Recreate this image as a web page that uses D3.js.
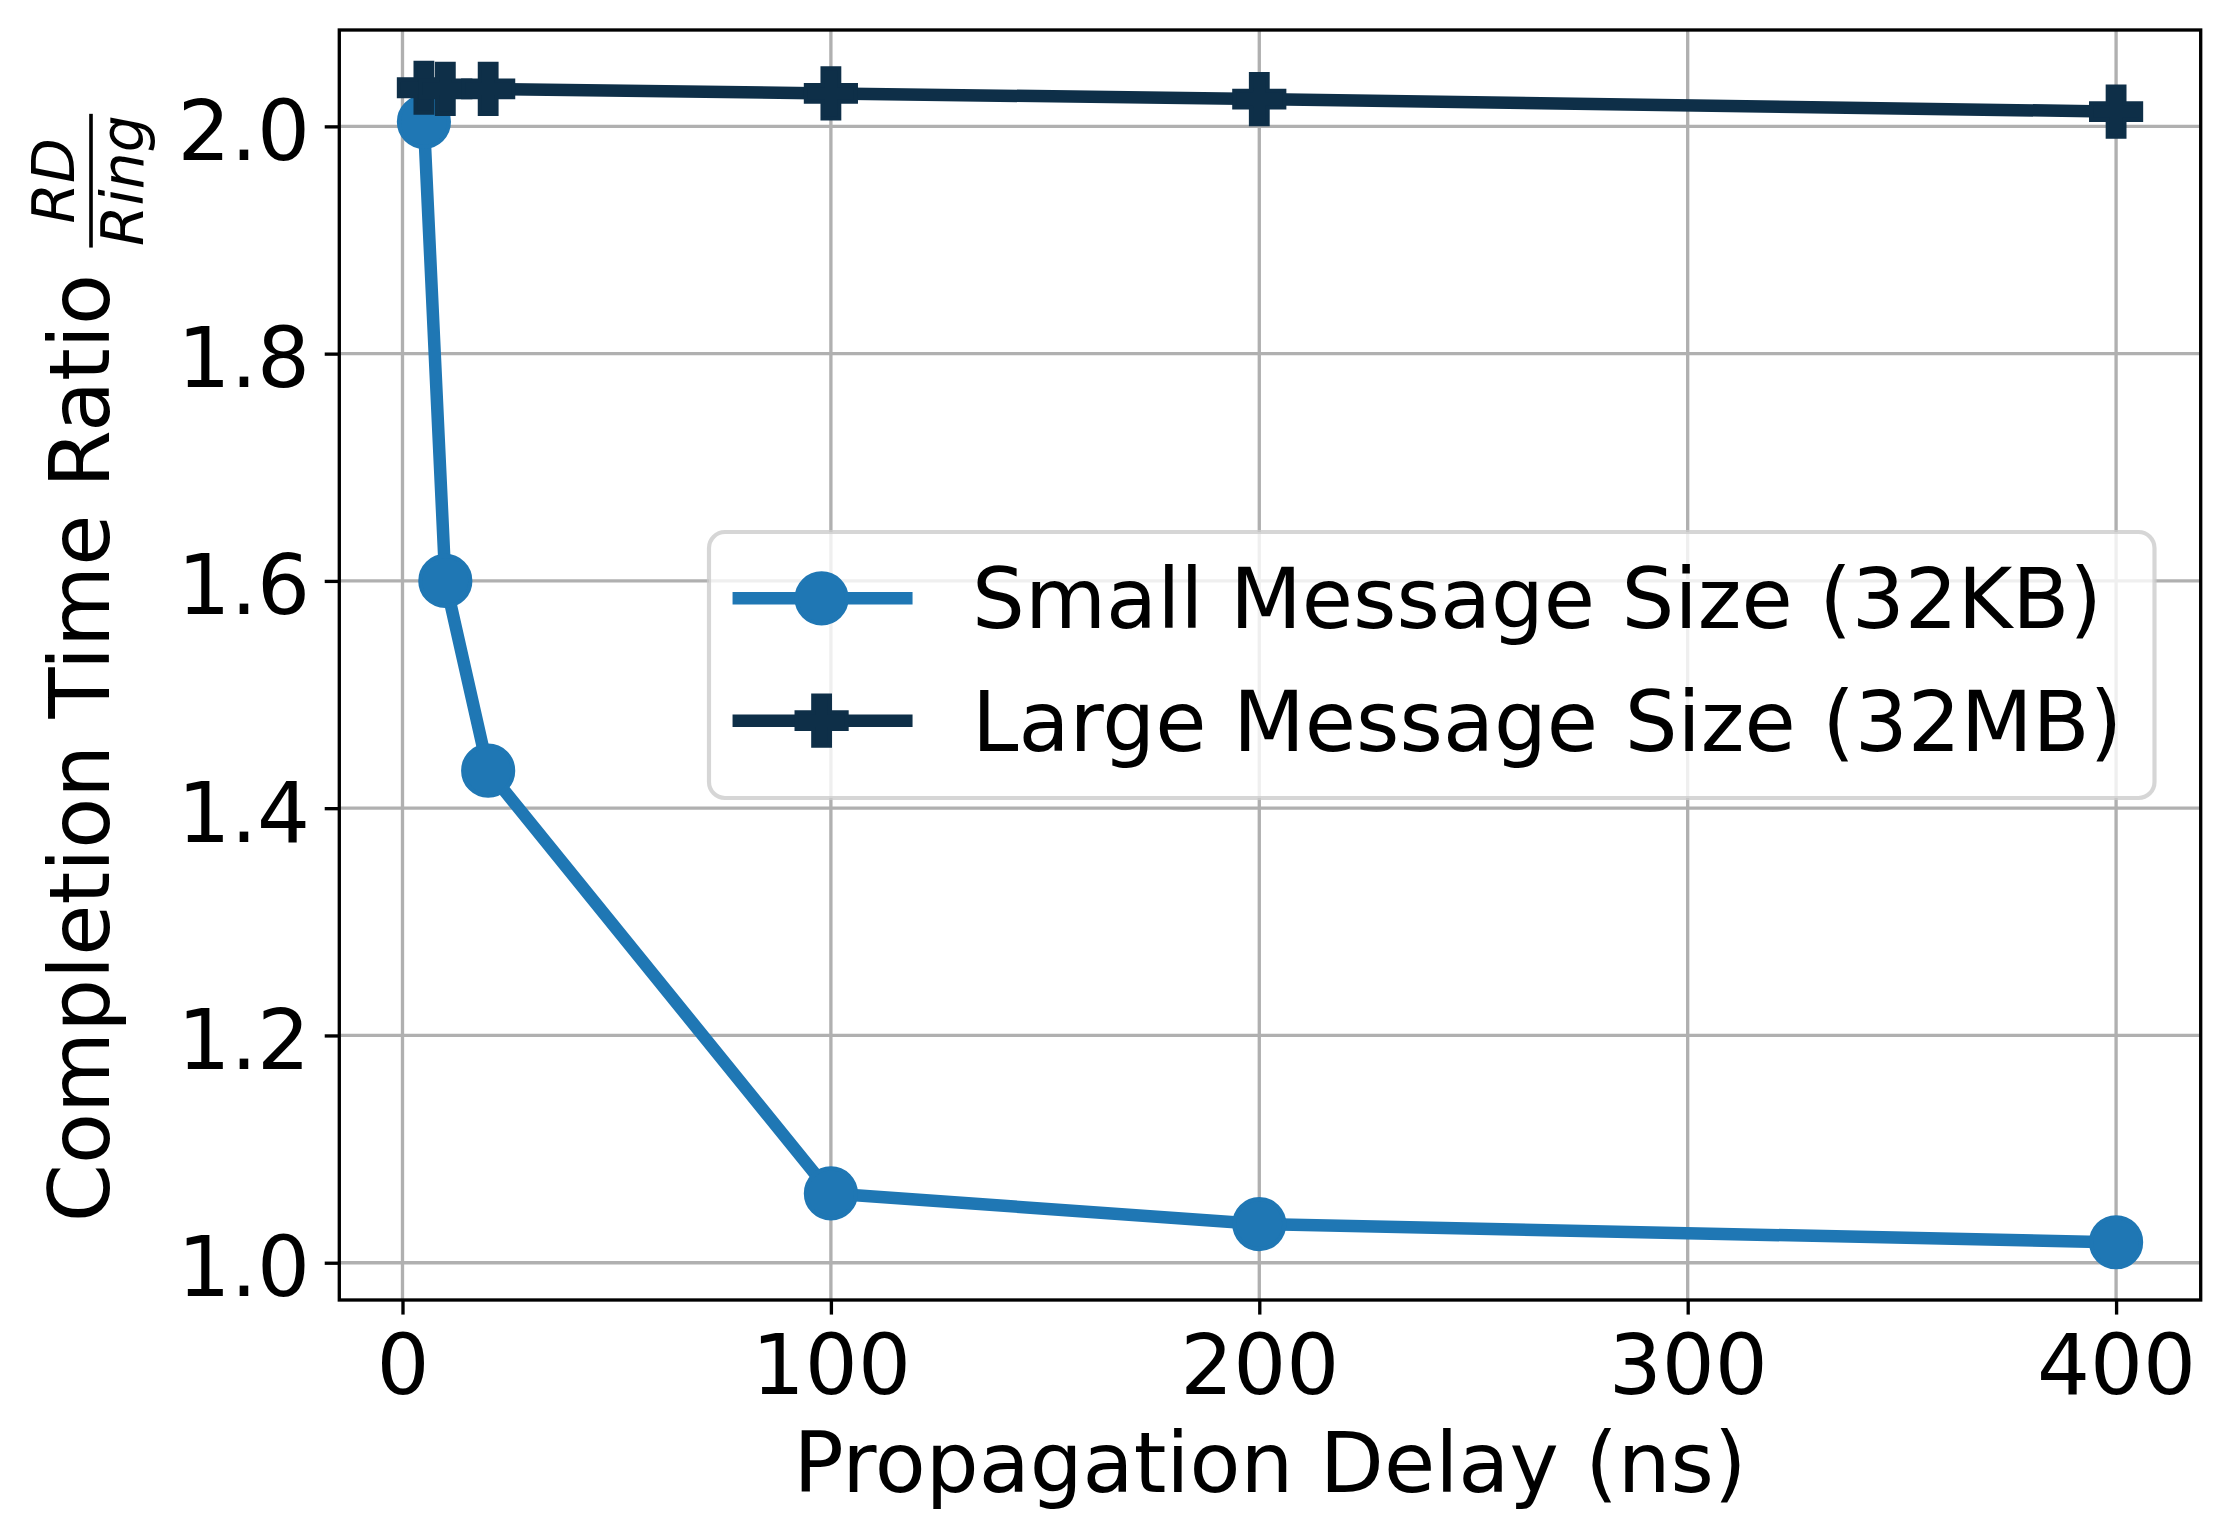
<!DOCTYPE html>
<html>
<head>
<meta charset="utf-8">
<script src="https://cdn.jsdelivr.net/npm/d3@7"></script>
<style>
  body { margin: 0; background: #fff; }
  text { font-family: "DejaVu Sans", sans-serif; fill: #000; }
</style>
</head>
<body>
<div id="chart"></div>
<script>
// datos
const delays = [5, 10, 20, 100, 200, 400];
const smallRatio = [2.004, 1.6, 1.433, 1.061, 1.034, 1.018];
const largeRatio = [2.034, 2.033, 2.033, 2.029, 2.024, 2.013];
const xTicks = [0, 100, 200, 300, 400];
const yTicks = [1.0, 1.2, 1.4, 1.6, 1.8, 2.0];
const seriesNames = ["Small Message Size (32KB)", "Large Message Size (32MB)"];
const seriesColors = ["#1f77b4", "#0e2f48"];

// dimensiones (300 dpi -> 1pt = 4.1667px)
const pt = 300 / 72;
const totalWidth = 2228;
const totalHeight = 1538;
const plot = { left: 339.3, right: 2200.7, top: 30, bottom: 1300 };
const fontSize = 20 * pt;

const svg = d3
  .select("#chart")
  .append("svg")
  .attr("width", totalWidth)
  .attr("height", totalHeight);

// margenes del 5% como matplotlib
const pad = (ext) => {
  const r = ext[1] - ext[0];
  return [ext[0] - 0.05 * r, ext[1] + 0.05 * r];
};
const x = d3
  .scaleLinear()
  .domain(pad(d3.extent(delays)))
  .range([plot.left, plot.right]);
const y = d3
  .scaleLinear()
  .domain(pad(d3.extent(smallRatio.concat(largeRatio))))
  .range([plot.bottom, plot.top]);

// rejilla
const grid = svg.append("g").attr("stroke", "#b0b0b0").attr("stroke-width", 0.8 * pt);
grid
  .selectAll(".gx")
  .data(xTicks)
  .join("line")
  .attr("x1", (d) => x(d))
  .attr("x2", (d) => x(d))
  .attr("y1", plot.top)
  .attr("y2", plot.bottom);
grid
  .selectAll(".gy")
  .data(yTicks)
  .join("line")
  .attr("x1", plot.left)
  .attr("x2", plot.right)
  .attr("y1", (d) => y(d))
  .attr("y2", (d) => y(d));

// series
const series = [smallRatio, largeRatio];
const line = d3
  .line()
  .x((d, i) => x(delays[i]))
  .y((d) => y(d));
const crossSize = 5 * Math.pow((12 * pt) / 3, 2);

const drawMarker = (g, k, cx, cy) => {
  if (k === 0) {
    g.append("circle")
      .attr("cx", cx)
      .attr("cy", cy)
      .attr("r", 6 * pt)
      .attr("fill", seriesColors[k])
      .attr("stroke", seriesColors[k])
      .attr("stroke-width", 1 * pt);
  } else {
    g.append("path")
      .attr("d", d3.symbol(d3.symbolCross, crossSize)())
      .attr("transform", `translate(${cx},${cy})`)
      .attr("fill", seriesColors[k])
      .attr("stroke", seriesColors[k])
      .attr("stroke-width", 1 * pt)
      .attr("stroke-linejoin", "miter");
  }
};

series.forEach((vals, k) => {
  const g = svg.append("g");
  g.append("path")
    .datum(vals)
    .attr("d", line)
    .attr("fill", "none")
    .attr("stroke", seriesColors[k])
    .attr("stroke-width", 3 * pt)
    .attr("stroke-linejoin", "round")
    .attr("stroke-linecap", "square");
  vals.forEach((v, i) => drawMarker(g, k, x(delays[i]), y(v)));
});

// marco
svg
  .append("rect")
  .attr("x", plot.left)
  .attr("y", plot.top)
  .attr("width", plot.right - plot.left)
  .attr("height", plot.bottom - plot.top)
  .attr("fill", "none")
  .attr("stroke", "#000")
  .attr("stroke-width", 0.8 * pt);

// ejes
const tickLen = 3.5 * pt;
const xAxis = svg
  .append("g")
  .attr("transform", `translate(0,${plot.bottom})`)
  .call(d3.axisBottom(x).tickValues(xTicks).tickSize(tickLen).tickFormat(d3.format("d")));
const yAxis = svg
  .append("g")
  .attr("transform", `translate(${plot.left},0)`)
  .call(d3.axisLeft(y).tickValues(yTicks).tickSize(tickLen).tickFormat(d3.format(".1f")));

[xAxis, yAxis].forEach((a) => {
  a.select(".domain").remove();
  a.selectAll(".tick line").attr("stroke", "#000").attr("stroke-width", 0.8 * pt);
  a.selectAll(".tick text")
    .style("font-family", "DejaVu Sans")
    .style("font-size", fontSize + "px")
    .attr("fill", "#000");
});
xAxis.selectAll(".tick text").attr("dy", null).attr("y", 94);
yAxis.selectAll(".tick text").attr("dy", null).attr("y", 33).attr("x", -2 * tickLen);

// etiqueta eje x
svg
  .append("text")
  .attr("x", (plot.left + plot.right) / 2)
  .attr("y", 1492)
  .attr("text-anchor", "middle")
  .style("font-size", fontSize + "px")
  .text("Propagation Delay (ns)");

// etiqueta eje y con fraccion RD / Ring
const ylab = svg
  .append("g")
  .attr("transform", `translate(109.4,${(plot.top + plot.bottom) / 2}) rotate(-90)`);
const mainText = ylab
  .append("text")
  .style("font-size", fontSize + "px")
  .text("Completion Time Ratio");
const fracSize = 0.7 * fontSize;
const num = ylab
  .append("text")
  .attr("text-anchor", "middle")
  .attr("y", -35.7)
  .style("font-size", fracSize + "px")
  .style("font-style", "italic")
  .text("RD");
const den = ylab
  .append("text")
  .attr("text-anchor", "middle")
  .attr("y", 33.5)
  .style("font-size", fracSize + "px")
  .style("font-style", "italic")
  .text("Ring");
const mainW = mainText.node().getComputedTextLength();
const barLen = Math.max(num.node().getComputedTextLength(), den.node().getComputedTextLength()) + 3;
const gap = 0.318 * fontSize;
const total = mainW + gap + barLen;
const u0 = -total / 2 - 3;
mainText.attr("x", u0);
const fracCenter = u0 + mainW + gap + barLen / 2;
num.attr("x", fracCenter);
den.attr("x", fracCenter);
ylab
  .append("rect")
  .attr("x", fracCenter - barLen / 2)
  .attr("y", -18.4 - 1.8)
  .attr("width", barLen)
  .attr("height", 3.6)
  .attr("fill", "#000");

// leyenda
const legend = svg.append("g");
legend
  .append("rect")
  .attr("x", 709)
  .attr("y", 532)
  .attr("width", 2154.5 - 709)
  .attr("height", 798 - 532)
  .attr("rx", 16)
  .attr("fill", "#fff")
  .attr("fill-opacity", 0.8)
  .attr("stroke", "#cccccc")
  .attr("stroke-opacity", 0.8)
  .attr("stroke-width", 1 * pt);

const rowY = [598.3, 720.7];
seriesNames.forEach((name, k) => {
  const g = legend.append("g");
  g.append("line")
    .attr("x1", 738.8)
    .attr("x2", 906.3)
    .attr("y1", rowY[k])
    .attr("y2", rowY[k])
    .attr("stroke", seriesColors[k])
    .attr("stroke-width", 3 * pt)
    .attr("stroke-linecap", "square");
  drawMarker(g, k, 821.6, rowY[k]);
  g.append("text")
    .attr("x", 972)
    .attr("y", rowY[k] + 30)
    .style("font-size", fontSize + "px")
    .text(name);
});
</script>
</body>
</html>
